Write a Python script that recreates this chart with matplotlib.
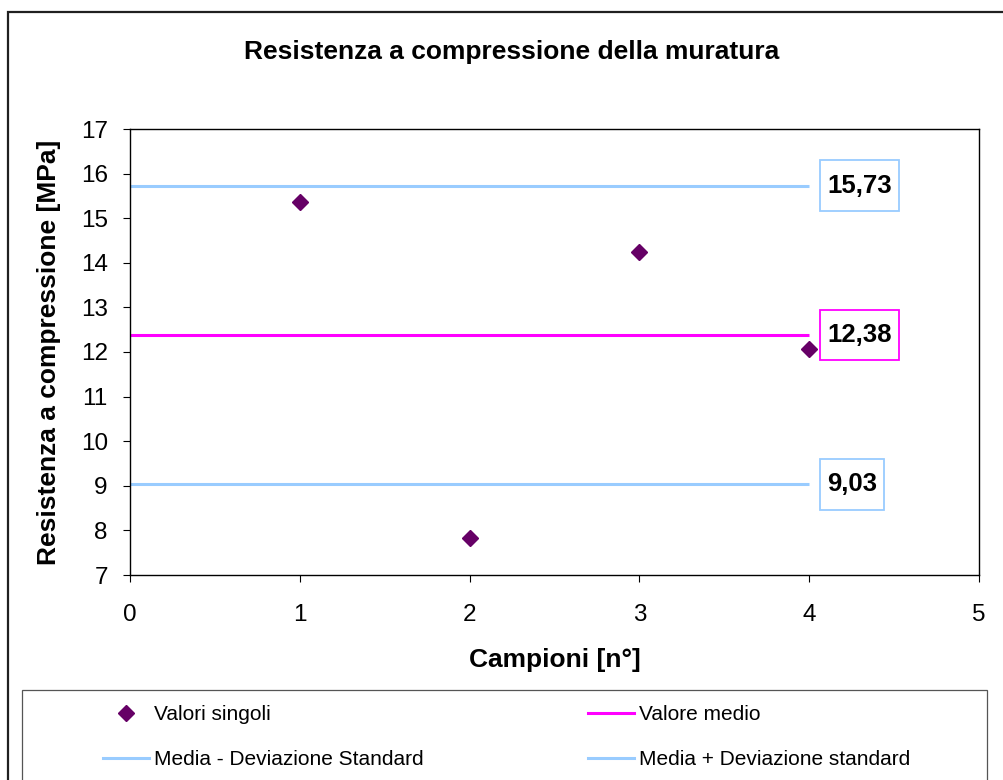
import matplotlib.pyplot as plt
from matplotlib.patches import Rectangle
from matplotlib.lines import Line2D
from matplotlib.path import Path

plt.rcParams['font.family'] = ['Liberation Sans', 'DejaVu Sans']

##### dati
campioni = [1, 2, 3, 4]
valori = [15.37, 7.83, 14.25, 12.07]
media = 12.38
media_meno = 9.03
media_piu = 15.73
x_linee = [0, 4]

col_punti = '#660066'
col_media = '#FF00FF'
col_dev = '#99CCFF'


def box_etichetta(x0, y0, width, height, mutation_size):
    # riquadro piu' alto che largo, come in Excel
    px = 0.27 * mutation_size
    py = 0.52 * mutation_size
    x0, y0 = x0 - px, y0 - py
    x1, y1 = x0 + width + 2*px, y0 + height + 2*py
    return Path([(x0, y0), (x1, y0), (x1, y1), (x0, y1), (x0, y0)], closed=True)


fig = plt.figure(figsize=(10.04, 7.8), dpi=100)
ax = fig.add_axes([130/1004, 1-575/780, (979-130)/1004, (575-129)/780])

ax.plot(x_linee, [media_piu]*2, color=col_dev, lw=2.2, solid_capstyle='butt')
ax.plot(x_linee, [media]*2, color=col_media, lw=2.2, solid_capstyle='butt')
ax.plot(x_linee, [media_meno]*2, color=col_dev, lw=2.2, solid_capstyle='butt')
ax.plot(campioni, valori, 'D', color=col_punti, ms=8, ls='none')

# etichette con i valori
for v, c in [(media_piu, col_dev), (media, col_media), (media_meno, col_dev)]:
    ax.annotate(f'{v:.2f}'.replace('.', ','), xy=(4, v), xytext=(18, 0),
                textcoords='offset pixels', ha='left', va='center',
                fontsize=18.5, fontweight='bold',
                bbox=dict(boxstyle=box_etichetta, fc='white', ec=c, lw=1.3))

ax.set_xlim(0, 5)
ax.set_ylim(7, 17)
ax.set_xticks(range(0, 6))
ax.set_yticks(range(7, 18))
ax.tick_params(labelsize=17.5, length=5, width=0.8, direction='out')
ax.tick_params(axis='y', pad=11)
ax.tick_params(axis='x', pad=16)
for s in ax.spines.values():
    s.set_linewidth(1.0)
ax.set_xlabel('Campioni [n°]', fontsize=19, fontweight='bold', labelpad=16)
ax.set_ylabel('Resistenza a compressione [MPa]', fontsize=19, fontweight='bold', labelpad=14)

fig.text(512/1004, 1-52/780, 'Resistenza a compressione della muratura',
         ha='center', va='center', fontsize=19, fontweight='bold')

# cornice esterna e riquadro legenda
fig.add_artist(Rectangle((8/1004, -0.1), 1.2, 1-12/780+0.1, transform=fig.transFigure,
                         fill=False, ec='#202020', lw=1.6))
fig.add_artist(Rectangle((22/1004, -0.1), (987-22)/1004, 1-690/780+0.1,
                         transform=fig.transFigure, fill=False, ec='#555555', lw=0.9))

h_punti = Line2D([], [], marker='D', color=col_punti, ls='none', ms=8)
h_media = Line2D([], [], color=col_media, lw=2.2)
h_meno = Line2D([], [], color=col_dev, lw=2.2)
h_piu = Line2D([], [], color=col_dev, lw=2.2)

kw = dict(loc='upper left', frameon=False, fontsize=15, borderpad=0, borderaxespad=0,
          handlelength=2.2, handletextpad=0.25, labelspacing=1.25)
fig.legend([h_punti, h_meno], ['Valori singoli', 'Media - Deviazione Standard'],
           bbox_to_anchor=(103/1004, 1-705/780), **kw)
fig.legend([h_media, h_piu], ['Valore medio', 'Media + Deviazione standard'],
           bbox_to_anchor=(588/1004, 1-705/780), **kw)

fig.savefig('out.png', dpi=100)
